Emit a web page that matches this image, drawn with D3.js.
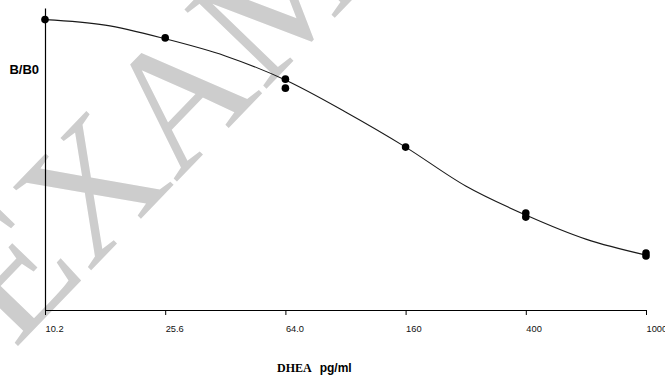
<!DOCTYPE html>
<html>
<head>
<meta charset="utf-8">
<script src="https://cdn.jsdelivr.net/npm/d3@7"></script>
<style>
  html, body { margin: 0; padding: 0; background: #fff; }
  svg { display: block; }
</style>
</head>
<body>
<div id="chart"></div>
<script>
const stdConc = [10.24, 25.6, 64, 64, 160, 400, 400, 1000, 1000];
const stdBB0 = [1.00, 0.937, 0.795, 0.764, 0.561, 0.334, 0.320, 0.196, 0.186];

// fitted curve
const curveConc = [10.24, 16.19, 25.6, 40.48, 64, 101.2, 160, 253, 400, 632, 1000];
const curveBB0 = [1.00, 0.981, 0.934, 0.875, 0.792, 0.682, 0.561, 0.427, 0.327, 0.244, 0.189];

const tickConc = [10.24, 25.6, 64, 160, 400, 1000];
const tickLabels = ['10.2', '25.6', '64.0', '160', '400', '1000'];

const width = 665, height = 376;
const margin = { left: 45, right: 19, top: 8, bottom: 66 };

const svg = d3.select('#chart')
  .append('svg')
  .attr('width', width)
  .attr('height', height);

// watermark
svg.append('text')
  .attr('transform', 'translate(300,54) rotate(-46)')
  .attr('text-anchor', 'middle')
  .style('font-family', '"Liberation Serif", "Times New Roman", serif')
  .style('font-size', '174px')
  .style('fill', '#cdcdcd')
  .text('EXAMPLE');

const x = d3.scaleLog()
  .domain([10.24, 1000])
  .range([margin.left, width - margin.right]);

const y = d3.scaleLinear()
  .domain([0, 1.04])
  .range([height - margin.bottom, margin.top]);

// x axis
const xAxis = svg.append('g')
  .attr('transform', `translate(0,${y(0)})`)
  .call(d3.axisBottom(x)
    .tickValues(tickConc)
    .tickFormat((d, i) => tickLabels[i])
    .tickSize(5)
    .tickSizeOuter(0));

xAxis.select('.domain').attr('stroke', '#000').attr('stroke-width', 1.2);
xAxis.selectAll('.tick line').attr('stroke', '#000');
xAxis.selectAll('.tick text')
  .attr('text-anchor', 'start')
  .attr('x', 0)
  .attr('y', 22)
  .attr('dy', 0)
  .style('font-family', '"Liberation Sans", Arial, sans-serif')
  .style('font-size', '9.3px')
  .style('fill', '#111');

// y axis, no ticks
const yAxis = svg.append('g')
  .attr('transform', `translate(${x(10.24)},0)`)
  .call(d3.axisLeft(y).tickValues([]).tickSizeOuter(0));
yAxis.select('.domain').attr('stroke', '#000').attr('stroke-width', 1.2);

svg.append('text')
  .attr('x', 39)
  .attr('y', 74)
  .attr('text-anchor', 'end')
  .style('font-family', '"Liberation Sans", Arial, sans-serif')
  .style('font-size', '13px')
  .style('font-weight', 'bold')
  .text('B/B0');

// x axis title: DHEA (serif) + pg/ml (sans)
const title = svg.append('text')
  .attr('x', 277)
  .attr('y', 372)
  .style('font-weight', 'bold');
title.append('tspan')
  .style('font-family', '"Liberation Serif", "Times New Roman", serif')
  .style('font-size', '12px')
  .text('DHEA');
title.append('tspan')
  .attr('dx', 8)
  .style('font-family', '"Liberation Sans", Arial, sans-serif')
  .style('font-size', '12px')
  .text('pg/ml');

// curve
const curveData = curveConc.map((c, i) => [c, curveBB0[i]]);
const line = d3.line()
  .x(d => x(d[0]))
  .y(d => y(d[1]))
  .curve(d3.curveMonotoneX);

svg.append('path')
  .datum(curveData)
  .attr('d', line)
  .attr('fill', 'none')
  .attr('stroke', '#1a1a1a')
  .attr('stroke-width', 1.1);

// points
svg.selectAll('.pt')
  .data(stdConc.map((c, i) => [c, stdBB0[i]]))
  .enter()
  .append('circle')
  .attr('class', 'pt')
  .attr('cx', d => x(d[0]))
  .attr('cy', d => y(d[1]))
  .attr('r', 3.8)
  .attr('fill', '#000');
</script>
</body>
</html>
